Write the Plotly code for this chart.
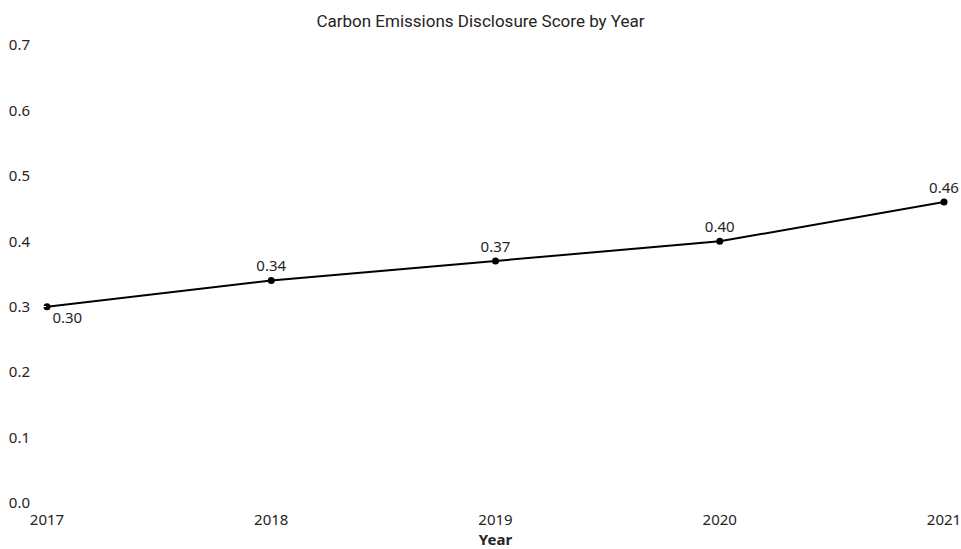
import plotly.graph_objects as go

years = [2017, 2018, 2019, 2020, 2021]
scores = [0.30, 0.34, 0.37, 0.40, 0.46]
labels = ["0.30", "0.34", "0.37", "0.40", "0.46"]
label_pos = ["bottom right", "top center", "top center", "top center", "top center"]
y_ticks = [0.0, 0.1, 0.2, 0.3, 0.4, 0.5, 0.6, 0.7]

fig = go.Figure(go.Scatter(
    x=years, y=scores, mode="lines+markers+text",
    line=dict(color="black", width=2),
    marker=dict(color="black", size=7),
    text=labels, textposition=label_pos,
    textfont=dict(family="Noto Sans", size=15, color="#252423"),
    cliponaxis=False, showlegend=False,
))

fig.update_layout(
    width=961, height=549,
    margin=dict(l=47, r=17, t=45, b=46, autoexpand=False),
    plot_bgcolor="white", paper_bgcolor="white",
    title=dict(text="Carbon Emissions Disclosure Score by Year", x=0.5, xanchor="center",
               y=0.962, yanchor="middle",
               font=dict(family="Roboto", size=17, color="#252423")),
    font=dict(family="Noto Sans", size=15, color="#252423"),
)
fig.update_xaxes(
    range=[2017, 2021], tickvals=years, ticktext=[str(y) for y in years],
    showgrid=False, zeroline=False, showline=False, automargin=False,
    ticklabeloverflow="allow",
    ticks="outside", ticklen=3, tickcolor="white",
    title=dict(text="<b>Year</b>", standoff=0, font=dict(size=15)),
)
fig.update_yaxes(
    range=[0, 0.7], tickvals=y_ticks, ticktext=[f"{v:.1f}" for v in y_ticks],
    showgrid=False, zeroline=False, showline=False, automargin=False,
    ticklabeloverflow="allow",
    ticks="outside", ticklen=13, tickcolor="white",
)

fig.write_html("out.html", config={"displayModeBar": False},
               post_script="document.body.style.margin='0px';document.body.style.overflow='hidden';")
